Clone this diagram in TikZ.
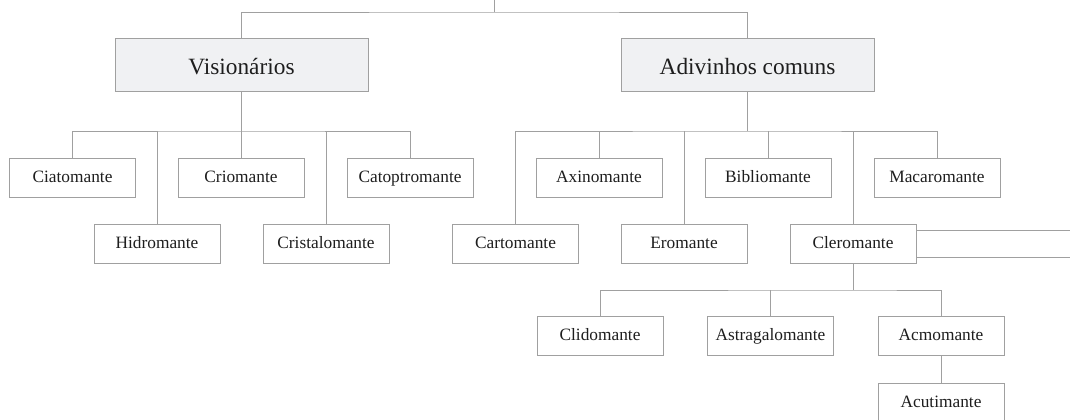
\documentclass[tikz,border=0pt]{standalone}
\usepackage{fontspec}
\setmainfont{Liberation Serif}
\definecolor{linec}{RGB}{160,160,160}
\definecolor{boxfill}{RGB}{240,241,243}
\definecolor{textc}{RGB}{30,30,30}
\begin{document}
\begin{tikzpicture}[x=0.75pt,y=-0.75pt,
  conn/.style={draw=linec,line width=0.65pt},
  leaf/.style={draw=linec,line width=0.65pt,fill=white,text=textc,inner sep=0pt,
    text height=10pt,text depth=2.8pt,
    minimum width=94.5pt,minimum height=29.25pt,font=\fontsize{13}{15}\selectfont},
  head/.style={draw=linec,line width=0.65pt,fill=boxfill,text=textc,inner sep=0pt,
    text height=18pt,text depth=3.7pt,
    minimum width=189.75pt,minimum height=39.75pt,font=\fontsize{17.5}{20}\selectfont}]
\useasboundingbox (0,0) rectangle (1070,420);
% headers
\node[head] (vis) at (241.5,64.5) {Visionários};
\node[head] (adv) at (747.5,64.5) {Adivinhos comuns};
% left group
\node[leaf] (cia) at (72.5,177.5) {Ciatomante};
\node[leaf] (hid) at (157,243.5) {Hidromante};
\node[leaf] (cri) at (241,177.5) {Criomante};
\node[leaf] (cris) at (326,243.5) {Cristalomante};
\node[leaf] (cat) at (410,177.5) {Catoptromante};
% right group
\node[leaf] (car) at (515.5,243.5) {Cartomante};
\node[leaf] (axi) at (599,177.5) {Axinomante};
\node[leaf] (ero) at (684,243.5) {Eromante};
\node[leaf] (bib) at (768,177.5) {Bibliomante};
\node[leaf] (cle) at (853,243.5) {Cleromante};
\node[leaf] (mac) at (937,177.5) {Macaromante};
% cleromante children
\node[leaf] (cli) at (600,336) {Clidomante};
\node[leaf] (ast) at (770.5,336) {Astragalomante};
\node[leaf] (acm) at (941,336) {Acmomante};
\node[leaf] (acu) at (941,402.5) {Acutimante};
% junctions
\coordinate (top) at (494,0);
\coordinate (j0) at (494,12);
\coordinate (j1) at (241.5,131);
\coordinate (j2) at (747.5,131);
\coordinate (j3) at (853,290);
\coordinate (r1) at (1070,230);
\coordinate (r2) at (1070,257);
% connectors
\draw[conn] (top) -- (j0);
\draw[conn] (vis.north) |- (j0) -| (adv.north);
\draw[conn] (vis.south) -- (j1);
\draw[conn] (cia.north) |- (j1) -| (cat.north);
\draw[conn] (hid.north) -- (hid.north |- j1);
\draw[conn] (cri.north) -- (cri.north |- j1);
\draw[conn] (cris.north) -- (cris.north |- j1);
\draw[conn] (adv.south) -- (j2);
\draw[conn] (car.north) |- (j2) -| (mac.north);
\draw[conn] (axi.north) -- (axi.north |- j2);
\draw[conn] (ero.north) -- (ero.north |- j2);
\draw[conn] (bib.north) -- (bib.north |- j2);
\draw[conn] (cle.north) -- (cle.north |- j2);
\draw[conn] (cle.south) -- (j3);
\draw[conn] (cli.north) |- (j3) -| (acm.north);
\draw[conn] (ast.north) -- (ast.north |- j3);
\draw[conn] (acm.south) -- (acu.north);
\draw[conn] (cle.east |- r1) -- (r1);
\draw[conn] (cle.east |- r2) -- (r2);
\end{tikzpicture}
\end{document}
